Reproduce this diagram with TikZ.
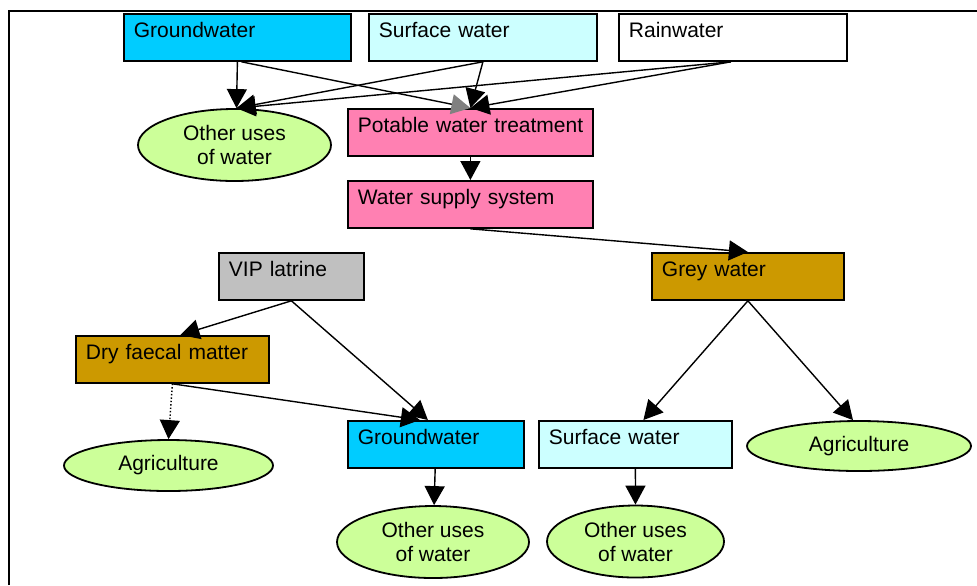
\documentclass[tikz,border=0pt]{standalone}
\usepackage{fontspec}
\setmainfont{Liberation Sans}
\usetikzlibrary{shapes.geometric,arrows.meta}
\definecolor{gwblue}{HTML}{00CCFF}
\definecolor{swblue}{HTML}{CCFFFF}
\definecolor{treatpink}{HTML}{FF80B2}
\definecolor{latgrey}{HTML}{C0C0C0}
\definecolor{waste}{HTML}{CC9900}
\definecolor{usegreen}{HTML}{CCFF99}
\begin{document}
\begin{tikzpicture}[x=0.5pt,y=-0.5pt,
    every node/.style={font=\fontsize{10.5}{12}\selectfont},
    box/.style={draw, line width=0.9pt, rectangle, anchor=north west, inner xsep=5pt,
        inner ysep=0pt, text height=12pt, text depth=11.5pt, align=left},
    use/.style={draw, line width=0.9pt, ellipse, fill=usegreen, inner sep=0pt, align=center},
    flow/.style={line width=0.7pt, -{Triangle[length=9.5pt,width=10pt]}},
    flowgrey/.style={line width=0.7pt, -{Triangle[length=9.5pt,width=10pt,color=gray]}}]
    \useasboundingbox (0,0) rectangle (977,585);
    \draw[line width=1pt] (9,585) -- (9,11) -- (977,11);

    % sources
    \node[box, fill=gwblue, text width=103.5pt] (gwtop) at (123,13) {Groundwater};
    \node[box, fill=swblue, text width=104pt] (swtop) at (368,13) {Surface water};
    \node[box, fill=white, text width=104pt] (rain) at (618,13) {Rainwater};
    \node[use, minimum width=96.5pt, minimum height=36pt] (othtop) at (234.5,145) {Other uses\\of water};
    \node[box, fill=treatpink, text width=112.5pt] (potable) at (347,108) {\mbox{Potable water treatment}};
    \node[box, fill=treatpink, text width=112.5pt] (supply) at (347,180) {Water supply system};

    % sanitation
    \node[box, fill=latgrey, text width=62.5pt] (vip) at (218,252) {VIP latrine};
    \node[box, fill=waste, text width=86pt] (grey) at (651,252) {Grey water};
    \node[box, fill=waste, text width=86.5pt] (dry) at (75,335) {Dry faecal matter};
    \node[box, fill=gwblue, text width=78pt] (gwbot) at (347,420) {Groundwater};
    \node[box, fill=swblue, text width=86.5pt] (swbot) at (538,420) {Surface water};
    \node[use, minimum width=104.5pt, minimum height=25.5pt] (agrleft) at (168.5,465.5) {Agriculture};
    \node[use, minimum width=112pt, minimum height=25pt] (agrright) at (859,446) {Agriculture};
    \node[use, minimum width=96pt, minimum height=36pt] (othbotL) at (433,542) {Other uses\\of water};
    \node[use, minimum width=88.5pt, minimum height=36pt] (othbotR) at (635.5,541.5) {Other uses\\of water};

    \draw[flow] (gwtop.south) -- ([xshift=1pt]othtop.north);
    \draw[flowgrey] ([xshift=2pt]gwtop.south) -- (potable.north);
    \draw[flow] (swtop.south) -- ([xshift=1pt]othtop.north);
    \draw[flow] (swtop.south) -- (potable.north);
    \draw[flow] ([xshift=-1pt]rain.south) -- ([xshift=1pt]othtop.north);
    \draw[flow] ([xshift=-1pt]rain.south) -- (potable.north);
    \draw[flow] (potable) -- (supply);
    \draw[flow] (supply.south) -- (grey.north);
    \draw[flow] (vip.south) -- ([xshift=4pt]dry.north);
    \draw[flow] (vip.south) -- ([xshift=-4pt]gwbot.north);
    \draw[flow] (dry.south) -- ([xshift=-8pt]gwbot.north);
    \draw[flow, densely dotted] (dry.south) -- (agrleft.north);
    \draw[flow] (grey.south) -- ([xshift=4pt]swbot.north);
    \draw[flow] (grey.south) -- ([xshift=-3pt]agrright.north);
    \draw[flow] (gwbot) -- (othbotL);
    \draw[flow] (swbot) -- (othbotR);
\end{tikzpicture}
\end{document}
